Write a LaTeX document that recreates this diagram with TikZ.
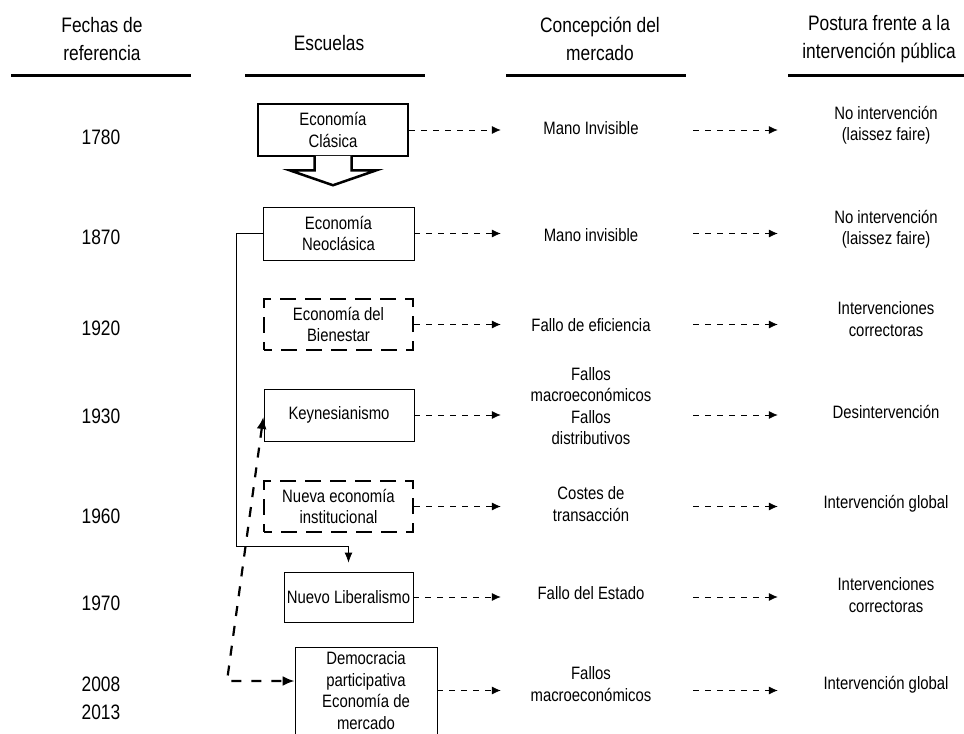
\documentclass[tikz,border=0pt]{standalone}
\usepackage{fontspec}
\setmainfont[FakeStretch=0.83]{Liberation Sans}
\usetikzlibrary{arrows.meta,calc}

\tikzset{
  titulo/.style={font=\fontsize{21}{28}\selectfont, align=flush center, inner sep=0pt},
  fecha/.style={font=\fontsize{21}{28}\selectfont, align=flush center, inner sep=0pt},
  concepto/.style={font=\fontsize{18}{21.5}\selectfont, align=flush center, inner sep=0pt, text width=180bp},
  postura/.style={font=\fontsize{18}{21.5}\selectfont, align=flush center, inner sep=0pt, text width=216bp},
  escuela/.style={draw, line width=0.8bp, font=\fontsize{18}{21.5}\selectfont, align=flush center, inner sep=0pt, minimum width=150bp, minimum height=52bp},
  clasica/.style={escuela, line width=2.5bp},
  discont/.style={escuela, line width=2.5bp, dash pattern=on 16bp off 9bp, dash phase=8bp, minimum width=149bp, minimum height=51bp},
  regla/.style={line width=3bp},
  flecha/.style={-{Latex[length=9bp,width=8bp]}, dash pattern=on 6bp off 6bp, line width=0.8bp},
  enlace/.style={-{Latex[length=10bp,width=8bp]}, line width=0.8bp},
  retorno/.style={{Latex[length=12bp,width=10bp]}-{Latex[length=12bp,width=10bp]}, line width=2.2bp, dash pattern=on 10bp off 10bp}
}

\begin{document}
\begin{tikzpicture}[x=1bp, y=-1bp]
\useasboundingbox (0,0) rectangle (964,734);

% cabeceras
\node[titulo] (h1) at (102,39) {Fechas de\\referencia};
\node[titulo] (h2) at (329,43) {Escuelas};
\node[titulo] (h3) at (600,39) {Concepción del\\mercado};
\node[titulo] (h4) at (879,39) {Postura frente a la\\intervención pública};
\draw[regla] (11,76) -- (191,76);
\draw[regla] (245,76) -- (425,76);
\draw[regla] (506,76) -- (686,76);
\draw[regla] (788,76) -- (964,76);

% fechas
\node[fecha] (f1) at (101,137) {1780};
\node[fecha] (f2) at (101,237) {1870};
\node[fecha] (f3) at (101,328) {1920};
\node[fecha] (f4) at (101,416) {1930};
\node[fecha] (f5) at (101,516) {1960};
\node[fecha] (f6) at (101,603) {1970};
\node[fecha] (f7) at (101,698) {2008\\2013};

% escuelas
\node[clasica] (clas) at (333,130) {Economía\\Clásica};
\node[escuela, minimum width=151bp, minimum height=53bp] (neo) at (338.5,233.5) {Economía\\Neoclásica};
\node[discont] (bien) at (338.5,324.5) {Economía del\\Bienestar};
\node[escuela] (keyn) at (339,415) {Keynesianismo};
\node[discont] (nei) at (338.5,506.5) {Nueva economía\\institucional};
\node[escuela, minimum width=129bp, minimum height=50bp] (nlib) at (348.5,597) {Nuevo Liberalismo};
\node[escuela, minimum width=142bp, minimum height=87bp] (demo) at (366,690.5) {Democracia\\participativa\\Economía de\\mercado};

% concepcion del mercado
\node[concepto] (m1) at (591,128) {Mano Invisible};
\node[concepto] (m2) at (591,235) {Mano invisible};
\node[concepto] (m3) at (591,325) {Fallo de eficiencia};
\node[concepto] (m4) at (591,406) {Fallos\\macroeconómicos\\Fallos\\distributivos};
\node[concepto] (m5) at (591,504) {Costes de\\transacción};
\node[concepto] (m6) at (591,593) {Fallo del Estado};
\node[concepto] (m7) at (591,684) {Fallos\\macroeconómicos};

% postura
\node[postura] (p1) at (886,125) {No intervención\\(laissez faire)};
\node[postura] (p2) at (886,229) {No intervención\\(laissez faire)};
\node[postura] (p3) at (886,319) {Intervenciones\\correctoras};
\node[postura] (p4) at (886,412) {Desintervención};
\node[postura] (p5) at (886,504) {Intervención global};
\node[postura] (p6) at (886,595) {Intervenciones\\correctoras};
\node[postura] (p7) at (886,685) {Intervención global};

% flecha gruesa
\draw[line width=2.5bp, fill=white, line join=miter] ($(clas.south)+(-18.5,-1.5)$) -- ++(0,14.5) -- ++(-25,0)
  -- ($(clas.south)+(0,28)$) -- ($(clas.south)+(43.5,13)$) -- ++(-25,0) -- ++(0,-14.5);

% flechas discontinuas
\draw[flecha] (clas.east) -- (clas.east -| m1.west);
\draw[flecha] (neo.east) -- (neo.east -| m2.west);
\draw[flecha] (bien.east) -- (bien.east -| m3.west);
\draw[flecha] (keyn.east) -- (keyn.east -| m4.west);
\draw[flecha] (nei.east) -- (nei.east -| m5.west);
\draw[flecha] (nlib.east) -- (nlib.east -| m6.west);
\draw[flecha] (demo.east) -- (demo.east -| m7.west);
\draw[flecha, shorten <=12bp] (clas.east -| m1.east) -- (clas.east -| p1.west);
\draw[flecha, shorten <=12bp] (neo.east -| m2.east) -- (neo.east -| p2.west);
\draw[flecha, shorten <=12bp] (bien.east -| m3.east) -- (bien.east -| p3.west);
\draw[flecha, shorten <=12bp] (keyn.east -| m4.east) -- (keyn.east -| p4.west);
\draw[flecha, shorten <=12bp] (nei.east -| m5.east) -- (nei.east -| p5.west);
\draw[flecha, shorten <=12bp] (nlib.east -| m6.east) -- (nlib.east -| p6.west);
\draw[flecha, shorten <=12bp] (demo.east -| m7.east) -- (demo.east -| p7.west);

% enlaces
\coordinate (codo) at (236,546);
\draw[enlace, shorten >=9bp] (neo.west) -| (codo) -| (nlib.north);
\coordinate (giro) at (227,681);
\draw[retorno, shorten <=2bp] (keyn.west) -- (giro) -- (giro -| demo.west);
\end{tikzpicture}
\end{document}
